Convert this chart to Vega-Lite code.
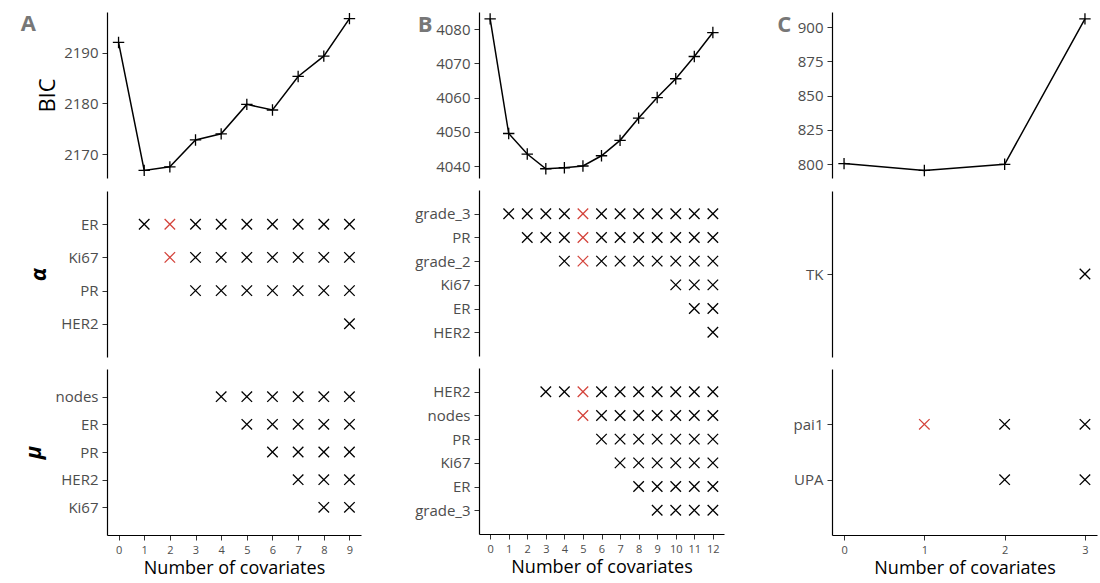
{
  "$schema": "https://vega.github.io/schema/vega-lite/v6.json",
  "background": "white",
  "padding": {"left": 20, "top": 10, "right": 5, "bottom": 2},
  "spacing": 53,
  "config": {
    "font": "Open Sans",
    "view": {"stroke": null},
    "concat": {"spacing": 12},
    "axis": {"grid": false, "domainColor": "black", "tickColor": "#333", "labelColor": "#4d4d4d", "labelFontSize": 15, "labelPadding": 4, "titleFontWeight": "normal", "titleColor": "black", "titleFontSize": 18, "domainWidth": 1.2},
    "axisQuantitative": {"format": "d"},
    "title": {"fontSize": 22, "color": "#777", "fontWeight": "bold", "anchor": "start", "frame": "bounds"}
  },
  "hconcat": [
    {
      "vconcat": [
        {
          "title": {"text": "A", "dy": 30, "dx": -16},
          "width": 254, "height": 166,
          "data": {"values": [
            {"n": 0, "bic": 2192}, {"n": 1, "bic": 2166.8}, {"n": 2, "bic": 2167.5}, {"n": 3, "bic": 2172.8}, {"n": 4, "bic": 2174},
            {"n": 5, "bic": 2179.8}, {"n": 6, "bic": 2178.7}, {"n": 7, "bic": 2185.3}, {"n": 8, "bic": 2189.3}, {"n": 9, "bic": 2196.7}]},
          "encoding": {
            "x": {"field": "n", "type": "quantitative", "scale": {"domain": [-0.45, 9.45], "nice": false, "zero": false}, "axis": null},
            "y": {"field": "bic", "type": "quantitative", "scale": {"domain": [2165.3, 2198], "nice": false, "zero": false}, "axis": {"values": [2170, 2180, 2190], "title": "BIC", "titleFontSize": 22}}
          },
          "layer": [
            {"mark": {"type": "line", "color": "black", "strokeWidth": 1.5}},
            {"mark": {"type": "point", "shape": "M-1,0L1,0M0,-1L0,1", "filled": false, "stroke": "black", "size": 130, "strokeWidth": 1.3, "opacity": 1}}
          ]
        },
        {
          "width": 254, "height": 166,
          "data": {"values": [
            {"v": "ER", "n": 1, "s": "no"}, {"v": "ER", "n": 2, "s": "yes"}, {"v": "ER", "n": 3, "s": "no"}, {"v": "ER", "n": 4, "s": "no"}, {"v": "ER", "n": 5, "s": "no"}, {"v": "ER", "n": 6, "s": "no"}, {"v": "ER", "n": 7, "s": "no"}, {"v": "ER", "n": 8, "s": "no"}, {"v": "ER", "n": 9, "s": "no"},
            {"v": "Ki67", "n": 2, "s": "yes"}, {"v": "Ki67", "n": 3, "s": "no"}, {"v": "Ki67", "n": 4, "s": "no"}, {"v": "Ki67", "n": 5, "s": "no"}, {"v": "Ki67", "n": 6, "s": "no"}, {"v": "Ki67", "n": 7, "s": "no"}, {"v": "Ki67", "n": 8, "s": "no"}, {"v": "Ki67", "n": 9, "s": "no"},
            {"v": "PR", "n": 3, "s": "no"}, {"v": "PR", "n": 4, "s": "no"}, {"v": "PR", "n": 5, "s": "no"}, {"v": "PR", "n": 6, "s": "no"}, {"v": "PR", "n": 7, "s": "no"}, {"v": "PR", "n": 8, "s": "no"}, {"v": "PR", "n": 9, "s": "no"},
            {"v": "HER2", "n": 9, "s": "no"}]},
          "mark": {"type": "point", "shape": "M-1,-1L1,1M1,-1L-1,1", "filled": false, "size": 110, "strokeWidth": 1.3, "opacity": 1},
          "encoding": {
            "x": {"field": "n", "type": "quantitative", "scale": {"domain": [-0.45, 9.45], "nice": false, "zero": false}, "axis": null},
            "y": {"field": "v", "type": "ordinal", "sort": ["ER", "Ki67", "PR", "HER2"], "scale": {"type": "point", "padding": 1.2}, "axis": {"title": "α", "titleFontSize": 22, "titleFontWeight": "bold", "titleFontStyle": "italic", "titlePadding": 10}},
            "stroke": {"field": "s", "type": "nominal", "scale": {"domain": ["no", "yes"], "range": ["black", "#d4443c"]}, "legend": null}
          }
        },
        {
          "width": 254, "height": 166,
          "data": {"values": [
            {"v": "nodes", "n": 4, "s": "no"}, {"v": "nodes", "n": 5, "s": "no"}, {"v": "nodes", "n": 6, "s": "no"}, {"v": "nodes", "n": 7, "s": "no"}, {"v": "nodes", "n": 8, "s": "no"}, {"v": "nodes", "n": 9, "s": "no"},
            {"v": "ER", "n": 5, "s": "no"}, {"v": "ER", "n": 6, "s": "no"}, {"v": "ER", "n": 7, "s": "no"}, {"v": "ER", "n": 8, "s": "no"}, {"v": "ER", "n": 9, "s": "no"},
            {"v": "PR", "n": 6, "s": "no"}, {"v": "PR", "n": 7, "s": "no"}, {"v": "PR", "n": 8, "s": "no"}, {"v": "PR", "n": 9, "s": "no"},
            {"v": "HER2", "n": 7, "s": "no"}, {"v": "HER2", "n": 8, "s": "no"}, {"v": "HER2", "n": 9, "s": "no"},
            {"v": "Ki67", "n": 8, "s": "no"}, {"v": "Ki67", "n": 9, "s": "no"}]},
          "mark": {"type": "point", "shape": "M-1,-1L1,1M1,-1L-1,1", "filled": false, "size": 110, "strokeWidth": 1.3, "opacity": 1},
          "encoding": {
            "x": {"field": "n", "type": "quantitative", "scale": {"domain": [-0.45, 9.45], "nice": false, "zero": false}, "axis": {"values": [0, 1, 2, 3, 4, 5, 6, 7, 8, 9], "labelFontSize": 11, "title": "Number of covariates", "titlePadding": 4}},
            "y": {"field": "v", "type": "ordinal", "sort": ["nodes", "ER", "PR", "HER2", "Ki67"], "scale": {"type": "point", "padding": 1.2}, "axis": {"title": "μ", "titleFontSize": 22, "titleFontWeight": "bold", "titleFontStyle": "italic", "titlePadding": 10}},
            "stroke": {"field": "s", "type": "nominal", "scale": {"domain": ["no", "yes"], "range": ["black", "#d4443c"]}, "legend": null}
          }
        }
      ]
    },
    {
      "vconcat": [
        {
          "title": {"text": "B", "dy": 30, "dx": -18},
          "width": 245, "height": 166,
          "data": {"values": [
            {"n": 0, "bic": 4083}, {"n": 1, "bic": 4049.5}, {"n": 2, "bic": 4043.5}, {"n": 3, "bic": 4039.2}, {"n": 4, "bic": 4039.5}, {"n": 5, "bic": 4040},
            {"n": 6, "bic": 4043}, {"n": 7, "bic": 4047.5}, {"n": 8, "bic": 4054}, {"n": 9, "bic": 4060}, {"n": 10, "bic": 4065.5}, {"n": 11, "bic": 4072}, {"n": 12, "bic": 4079}]},
          "encoding": {
            "x": {"field": "n", "type": "quantitative", "scale": {"domain": [-0.6, 12.6], "nice": false, "zero": false}, "axis": null},
            "y": {"field": "bic", "type": "quantitative", "scale": {"domain": [4036.5, 4085], "nice": false, "zero": false}, "axis": {"values": [4040, 4050, 4060, 4070, 4080], "title": null}}
          },
          "layer": [
            {"mark": {"type": "line", "color": "black", "strokeWidth": 1.5}},
            {"mark": {"type": "point", "shape": "M-1,0L1,0M0,-1L0,1", "filled": false, "stroke": "black", "size": 130, "strokeWidth": 1.3, "opacity": 1}}
          ]
        },
        {
          "width": 245, "height": 166,
          "data": {"values": [
            {"v": "grade_3", "n": 1, "s": "no"}, {"v": "grade_3", "n": 2, "s": "no"}, {"v": "grade_3", "n": 3, "s": "no"}, {"v": "grade_3", "n": 4, "s": "no"}, {"v": "grade_3", "n": 5, "s": "yes"}, {"v": "grade_3", "n": 6, "s": "no"}, {"v": "grade_3", "n": 7, "s": "no"}, {"v": "grade_3", "n": 8, "s": "no"}, {"v": "grade_3", "n": 9, "s": "no"}, {"v": "grade_3", "n": 10, "s": "no"}, {"v": "grade_3", "n": 11, "s": "no"}, {"v": "grade_3", "n": 12, "s": "no"},
            {"v": "PR", "n": 2, "s": "no"}, {"v": "PR", "n": 3, "s": "no"}, {"v": "PR", "n": 4, "s": "no"}, {"v": "PR", "n": 5, "s": "yes"}, {"v": "PR", "n": 6, "s": "no"}, {"v": "PR", "n": 7, "s": "no"}, {"v": "PR", "n": 8, "s": "no"}, {"v": "PR", "n": 9, "s": "no"}, {"v": "PR", "n": 10, "s": "no"}, {"v": "PR", "n": 11, "s": "no"}, {"v": "PR", "n": 12, "s": "no"},
            {"v": "grade_2", "n": 4, "s": "no"}, {"v": "grade_2", "n": 5, "s": "yes"}, {"v": "grade_2", "n": 6, "s": "no"}, {"v": "grade_2", "n": 7, "s": "no"}, {"v": "grade_2", "n": 8, "s": "no"}, {"v": "grade_2", "n": 9, "s": "no"}, {"v": "grade_2", "n": 10, "s": "no"}, {"v": "grade_2", "n": 11, "s": "no"}, {"v": "grade_2", "n": 12, "s": "no"},
            {"v": "Ki67", "n": 10, "s": "no"}, {"v": "Ki67", "n": 11, "s": "no"}, {"v": "Ki67", "n": 12, "s": "no"},
            {"v": "ER", "n": 11, "s": "no"}, {"v": "ER", "n": 12, "s": "no"},
            {"v": "HER2", "n": 12, "s": "no"}]},
          "mark": {"type": "point", "shape": "M-1,-1L1,1M1,-1L-1,1", "filled": false, "size": 110, "strokeWidth": 1.3, "opacity": 1},
          "encoding": {
            "x": {"field": "n", "type": "quantitative", "scale": {"domain": [-0.6, 12.6], "nice": false, "zero": false}, "axis": null},
            "y": {"field": "v", "type": "ordinal", "sort": ["grade_3", "PR", "grade_2", "Ki67", "ER", "HER2"], "scale": {"type": "point", "padding": 1.2}, "axis": {"title": null}},
            "stroke": {"field": "s", "type": "nominal", "scale": {"domain": ["no", "yes"], "range": ["black", "#d4443c"]}, "legend": null}
          }
        },
        {
          "width": 245, "height": 166,
          "data": {"values": [
            {"v": "HER2", "n": 3, "s": "no"}, {"v": "HER2", "n": 4, "s": "no"}, {"v": "HER2", "n": 5, "s": "yes"}, {"v": "HER2", "n": 6, "s": "no"}, {"v": "HER2", "n": 7, "s": "no"}, {"v": "HER2", "n": 8, "s": "no"}, {"v": "HER2", "n": 9, "s": "no"}, {"v": "HER2", "n": 10, "s": "no"}, {"v": "HER2", "n": 11, "s": "no"}, {"v": "HER2", "n": 12, "s": "no"},
            {"v": "nodes", "n": 5, "s": "yes"}, {"v": "nodes", "n": 6, "s": "no"}, {"v": "nodes", "n": 7, "s": "no"}, {"v": "nodes", "n": 8, "s": "no"}, {"v": "nodes", "n": 9, "s": "no"}, {"v": "nodes", "n": 10, "s": "no"}, {"v": "nodes", "n": 11, "s": "no"}, {"v": "nodes", "n": 12, "s": "no"},
            {"v": "PR", "n": 6, "s": "no"}, {"v": "PR", "n": 7, "s": "no"}, {"v": "PR", "n": 8, "s": "no"}, {"v": "PR", "n": 9, "s": "no"}, {"v": "PR", "n": 10, "s": "no"}, {"v": "PR", "n": 11, "s": "no"}, {"v": "PR", "n": 12, "s": "no"},
            {"v": "Ki67", "n": 7, "s": "no"}, {"v": "Ki67", "n": 8, "s": "no"}, {"v": "Ki67", "n": 9, "s": "no"}, {"v": "Ki67", "n": 10, "s": "no"}, {"v": "Ki67", "n": 11, "s": "no"}, {"v": "Ki67", "n": 12, "s": "no"},
            {"v": "ER", "n": 8, "s": "no"}, {"v": "ER", "n": 9, "s": "no"}, {"v": "ER", "n": 10, "s": "no"}, {"v": "ER", "n": 11, "s": "no"}, {"v": "ER", "n": 12, "s": "no"},
            {"v": "grade_3", "n": 9, "s": "no"}, {"v": "grade_3", "n": 10, "s": "no"}, {"v": "grade_3", "n": 11, "s": "no"}, {"v": "grade_3", "n": 12, "s": "no"}]},
          "mark": {"type": "point", "shape": "M-1,-1L1,1M1,-1L-1,1", "filled": false, "size": 110, "strokeWidth": 1.3, "opacity": 1},
          "encoding": {
            "x": {"field": "n", "type": "quantitative", "scale": {"domain": [-0.6, 12.6], "nice": false, "zero": false}, "axis": {"values": [0, 1, 2, 3, 4, 5, 6, 7, 8, 9, 10, 11, 12], "labelFontSize": 11, "title": "Number of covariates", "titlePadding": 4}},
            "y": {"field": "v", "type": "ordinal", "sort": ["HER2", "nodes", "PR", "Ki67", "ER", "grade_3"], "scale": {"type": "point", "padding": 1.2}, "axis": {"title": null}},
            "stroke": {"field": "s", "type": "nominal", "scale": {"domain": ["no", "yes"], "range": ["black", "#d4443c"]}, "legend": null}
          }
        }
      ]
    },
    {
      "vconcat": [
        {
          "title": {"text": "C", "dy": 30, "dx": -20},
          "width": 265, "height": 166,
          "data": {"values": [
            {"n": 0, "bic": 800.5}, {"n": 1, "bic": 795.5}, {"n": 2, "bic": 800}, {"n": 3, "bic": 906}]},
          "encoding": {
            "x": {"field": "n", "type": "quantitative", "scale": {"domain": [-0.15, 3.15], "nice": false, "zero": false}, "axis": null},
            "y": {"field": "bic", "type": "quantitative", "scale": {"domain": [790, 911], "nice": false, "zero": false}, "axis": {"values": [800, 825, 850, 875, 900], "title": null}}
          },
          "layer": [
            {"mark": {"type": "line", "color": "black", "strokeWidth": 1.5}},
            {"mark": {"type": "point", "shape": "M-1,0L1,0M0,-1L0,1", "filled": false, "stroke": "black", "size": 130, "strokeWidth": 1.3, "opacity": 1}}
          ]
        },
        {
          "width": 265, "height": 166,
          "data": {"values": [{"v": "TK", "n": 3, "s": "no"}]},
          "mark": {"type": "point", "shape": "M-1,-1L1,1M1,-1L-1,1", "filled": false, "size": 110, "strokeWidth": 1.3, "opacity": 1},
          "encoding": {
            "x": {"field": "n", "type": "quantitative", "scale": {"domain": [-0.15, 3.15], "nice": false, "zero": false}, "axis": null},
            "y": {"field": "v", "type": "ordinal", "scale": {"type": "point", "padding": 1.2}, "axis": {"title": null}},
            "stroke": {"field": "s", "type": "nominal", "scale": {"domain": ["no", "yes"], "range": ["black", "#d4443c"]}, "legend": null}
          }
        },
        {
          "width": 265, "height": 166,
          "data": {"values": [
            {"v": "pai1", "n": 1, "s": "yes"}, {"v": "pai1", "n": 2, "s": "no"}, {"v": "pai1", "n": 3, "s": "no"},
            {"v": "UPA", "n": 2, "s": "no"}, {"v": "UPA", "n": 3, "s": "no"}]},
          "mark": {"type": "point", "shape": "M-1,-1L1,1M1,-1L-1,1", "filled": false, "size": 110, "strokeWidth": 1.3, "opacity": 1},
          "encoding": {
            "x": {"field": "n", "type": "quantitative", "scale": {"domain": [-0.15, 3.15], "nice": false, "zero": false}, "axis": {"values": [0, 1, 2, 3], "labelFontSize": 11, "title": "Number of covariates", "titlePadding": 4}},
            "y": {"field": "v", "type": "ordinal", "sort": ["pai1", "UPA"], "scale": {"type": "point", "padding": 1.2}, "axis": {"title": null}},
            "stroke": {"field": "s", "type": "nominal", "scale": {"domain": ["no", "yes"], "range": ["black", "#d4443c"]}, "legend": null}
          }
        }
      ]
    }
  ]
}
